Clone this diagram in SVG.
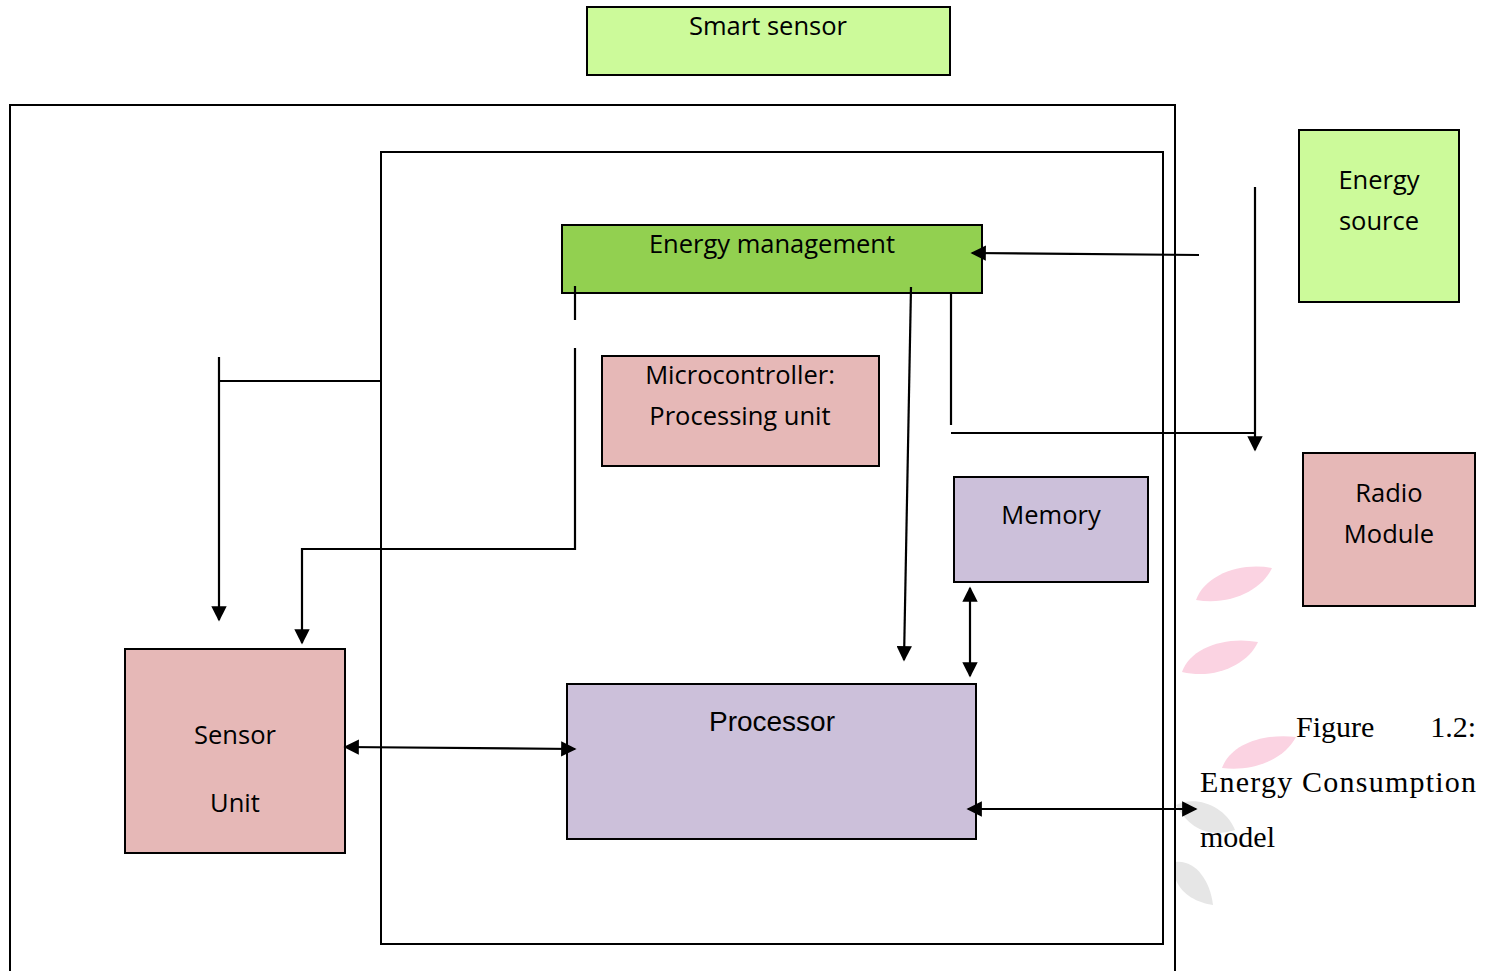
<svg xmlns="http://www.w3.org/2000/svg" width="1489" height="971" viewBox="0 0 1489 971">
<style>
.box{stroke:#000;stroke-width:2}
.lbl{font-family:"Open Sans","Noto Sans",sans-serif;font-size:25.5px;fill:#000;text-anchor:middle}
.cap{font-family:"Liberation Serif",serif;font-size:30px;fill:#000}
.ln{stroke:#000;stroke-width:2.2;fill:none}
.frame{stroke:#000;stroke-width:2;fill:none}
.pk{fill:#fbd3e2}
.gy{fill:#e6e6e6}
</style>
<defs>
<marker id="ah" viewBox="0 0 10 10" refX="9" refY="5" markerWidth="7" markerHeight="7" markerUnits="strokeWidth" orient="auto-start-reverse">
<path d="M0,0 L10,5 L0,10 z" fill="#000"/>
</marker>
</defs>
<rect width="1489" height="971" fill="#fff"/>
<g id="petals">
<path class="pk" d="M1196,600 C1205,575 1240,562 1272,568 C1262,590 1230,606 1196,600 z"/>
<path class="pk" d="M1182,672 C1190,648 1225,636 1258,642 C1248,664 1216,680 1182,672 z"/>
<path class="pk" d="M1222,768 C1230,745 1262,733 1296,737 C1285,758 1256,772 1222,768 z"/>
<path class="gy" d="M1176,805 C1195,795 1225,805 1235,830 C1210,838 1190,830 1176,805 z"/>
<path class="gy" d="M1176,862 C1195,860 1210,880 1213,905 C1198,903 1182,895 1176,880 z"/>
</g>
<g id="frames">
<path class="frame" d="M10,971 L10,105 L1175,105 L1175,971"/>
<rect class="frame" x="381" y="152" width="782" height="792"/>
</g>
<g id="smart-sensor">
<rect class="box" x="587" y="7" width="363" height="68" fill="#ccfa9a"/>
<text class="lbl" x="768" y="35">Smart sensor</text>
</g>
<g id="energy-management">
<rect class="box" x="562" y="225" width="420" height="68" fill="#92d050"/>
<text class="lbl" x="772" y="253">Energy management</text>
</g>
<g id="energy-source">
<rect class="box" x="1299" y="130" width="160" height="172" fill="#ccfa9a"/>
<text class="lbl" x="1379" y="189">Energy</text>
<text class="lbl" x="1379" y="230">source</text>
</g>
<g id="microcontroller">
<rect class="box" x="602" y="356" width="277" height="110" fill="#e6b8b7"/>
<text class="lbl" x="740" y="384">Microcontroller:</text>
<text class="lbl" x="740" y="425">Processing unit</text>
</g>
<g id="memory">
<rect class="box" x="954" y="477" width="194" height="105" fill="#ccc0da"/>
<text class="lbl" x="1051" y="524">Memory</text>
</g>
<g id="radio-module">
<rect class="box" x="1303" y="453" width="172" height="153" fill="#e6b8b7"/>
<text class="lbl" x="1389" y="502">Radio</text>
<text class="lbl" x="1389" y="543">Module</text>
</g>
<g id="processor">
<rect class="box" x="567" y="684" width="409" height="155" fill="#ccc0da"/>
<text x="772" y="731" font-family="Liberation Sans Narrow,Liberation Sans,sans-serif" font-size="28" text-anchor="middle">Processor</text>
</g>
<g id="sensor-unit">
<rect class="box" x="125" y="649" width="220" height="204" fill="#e6b8b7"/>
<text class="lbl" x="235" y="744">Sensor</text>
<text class="lbl" x="235" y="812">Unit</text>
</g>
<g id="caption">
<text class="cap" x="1296" y="737">Figure</text>
<text class="cap" x="1476" y="737" text-anchor="end">1.2:</text>
<text class="cap" x="1200" y="792" textLength="276" lengthAdjust="spacing">Energy Consumption</text>
<text class="cap" x="1200" y="847">model</text>
</g>
<g id="connectors">
<line class="ln" x1="1199" y1="255" x2="972" y2="253" marker-end="url(#ah)"/>
<line class="ln" x1="1255" y1="187" x2="1255" y2="450" marker-end="url(#ah)"/>
<polyline class="ln" points="951,292 951,425"/>
<line class="ln" x1="951" y1="433" x2="1255" y2="433"/>
<line class="ln" x1="911" y1="287" x2="904" y2="660" marker-end="url(#ah)"/>
<line class="ln" x1="970" y1="588" x2="970" y2="676" marker-start="url(#ah)" marker-end="url(#ah)"/>
<line class="ln" x1="575" y1="286" x2="575" y2="320"/>
<polyline class="ln" points="575,348 575,549 302,549 302,643" marker-end="url(#ah)"/>
<line class="ln" x1="219" y1="357" x2="219" y2="620" marker-end="url(#ah)"/>
<line class="ln" x1="219" y1="381" x2="381" y2="381"/>
<line class="ln" x1="345" y1="747" x2="575" y2="749" marker-start="url(#ah)" marker-end="url(#ah)"/>
<line class="ln" x1="968" y1="809" x2="1196" y2="809" marker-start="url(#ah)" marker-end="url(#ah)"/>
</g>
</svg>
